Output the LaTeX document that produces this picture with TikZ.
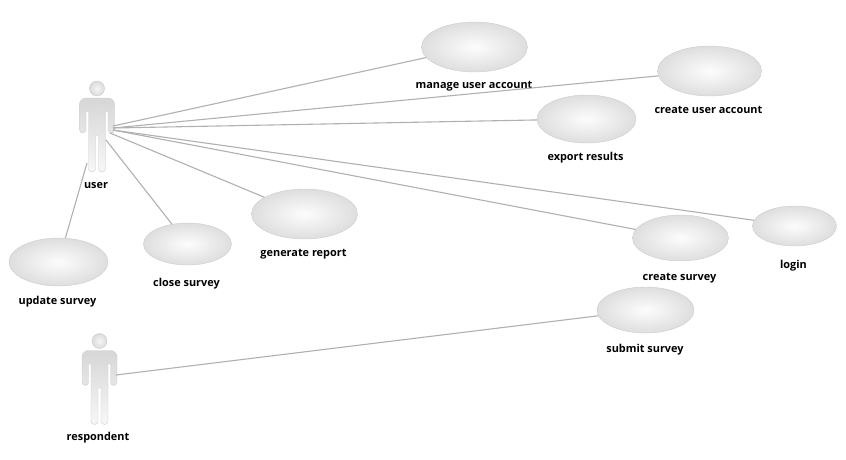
\documentclass[tikz,border=0pt]{standalone}
\usepackage{fontspec}
\setmainfont{Open Sans}
\usetikzlibrary{shapes.geometric}
\usetikzlibrary{calc}

\definecolor{linegray}{RGB}{176,176,176}
\definecolor{rimgray}{RGB}{204,204,204}
\definecolor{fillgray}{RGB}{222,222,222}

\tikzset{
    % use case: grey ellipse with a light centre
    usecase/.style={ellipse, draw=rimgray, inner color=white!92!fillgray, outer color=fillgray, inner sep=0pt},
    % label under a shape
    caption/.style={font=\bfseries\fontsize{10.9}{12}\selectfont, text=black, inner sep=0pt, yshift=-1.8pt},
    % connector
    link/.style={draw=linegray, line width=1.1pt},
    % stick figure, origin at the centre of the head
    pics/actor/.style={code={
        \draw[rimgray, top color=black!16, bottom color=black!3]
            (-17.5,16) to[out=90,in=180] (-11,9.5) -- (11,9.5) to[out=0,in=90] (17.5,16)
            -- (17.5,41) to[out=-90,in=0] (14.2,44.5) to[out=180,in=-90] (11,41)
            -- (11,23) -- (8.5,23) -- (8.5,80) to[out=-90,in=0] (5,83.5) to[out=180,in=-90] (1.5,80)
            -- (1.5,47) -- (-1.5,47)
            -- (-1.5,80) to[out=-90,in=0] (-5,83.5) to[out=180,in=-90] (-8.5,80)
            -- (-8.5,23) -- (-11,23) -- (-11,41) to[out=-90,in=0] (-14.2,44.5) to[out=180,in=-90] (-17.5,41)
            -- cycle;
        \draw[rimgray, inner color=black!4, outer color=black!14] (0,0) circle (7.5);
    }}
}

\begin{document}
\begin{tikzpicture}[x=1pt, y=-1pt]
    \useasboundingbox (0,0) rectangle (846,460);

    % actors
    \coordinate (head1) at (97,88.5);
    \coordinate (head2) at (99.5,341);
    \pic at (head1) {actor};
    \pic at (head2) {actor};
    \node[caption] (user) at (96,184) {user};
    \node[caption] (respondent) at (98,436) {respondent};

    % use cases
    \node[usecase, minimum width=106, minimum height=50] (manage) at (474.5,47) {};
    \node[usecase, minimum width=104, minimum height=50] (account) at (709.5,71) {};
    \node[usecase, minimum width=99, minimum height=48] (export) at (586.5,119) {};
    \node[usecase, minimum width=106, minimum height=50] (report) at (304.5,214) {};
    \node[usecase, minimum width=88, minimum height=42] (close) at (187.5,244) {};
    \node[usecase, minimum width=99, minimum height=48] (update) at (58.5,262) {};
    \node[usecase, minimum width=96, minimum height=46] (create) at (680.5,238) {};
    \node[usecase, minimum width=84, minimum height=40] (login) at (794.5,226) {};
    \node[usecase, minimum width=97, minimum height=46] (submit) at (645.5,310) {};

    % labels of the use cases
    \node[caption] (lmanage) at (474,84) {manage user account};
    \node[caption] (laccount) at (708.5,108) {create user account};
    \node[caption] (lexport) at (585.5,156) {export results};
    \node[caption] (lreport) at (303.5,252) {generate report};
    \node[caption] (lclose) at (186.5,282) {close survey};
    \node[caption] (lupdate) at (57.5,300) {update survey};
    \node[caption] (lcreate) at (679.5,276) {create survey};
    \node[caption] (llogin) at (793.5,264) {login};
    \node[caption] (lsubmit) at (645,348) {submit survey};

    % free ends on the figures
    \coordinate (u1) at (113,126);
    \coordinate (u2) at (113,128);
    \coordinate (u3) at (113,130);
    \coordinate (u4) at (110,133);
    \coordinate (u5) at (106,140);
    \coordinate (u6) at (87,163);
    \coordinate (r1) at (116,375);

    % connectors
    \draw[link] (u1) -- (manage);
    \draw[link] (u2) -- (account);
    \draw[link] (u2) -- (export);
    \draw[link] (u3) -- (login);
    \draw[link] (u3) -- (create);
    \draw[link] (u4) -- (report);
    \draw[link] (u5) -- (close);
    \draw[link] (u6) -- (update);
    \draw[link] (r1) -- (submit);
\end{tikzpicture}
\end{document}
